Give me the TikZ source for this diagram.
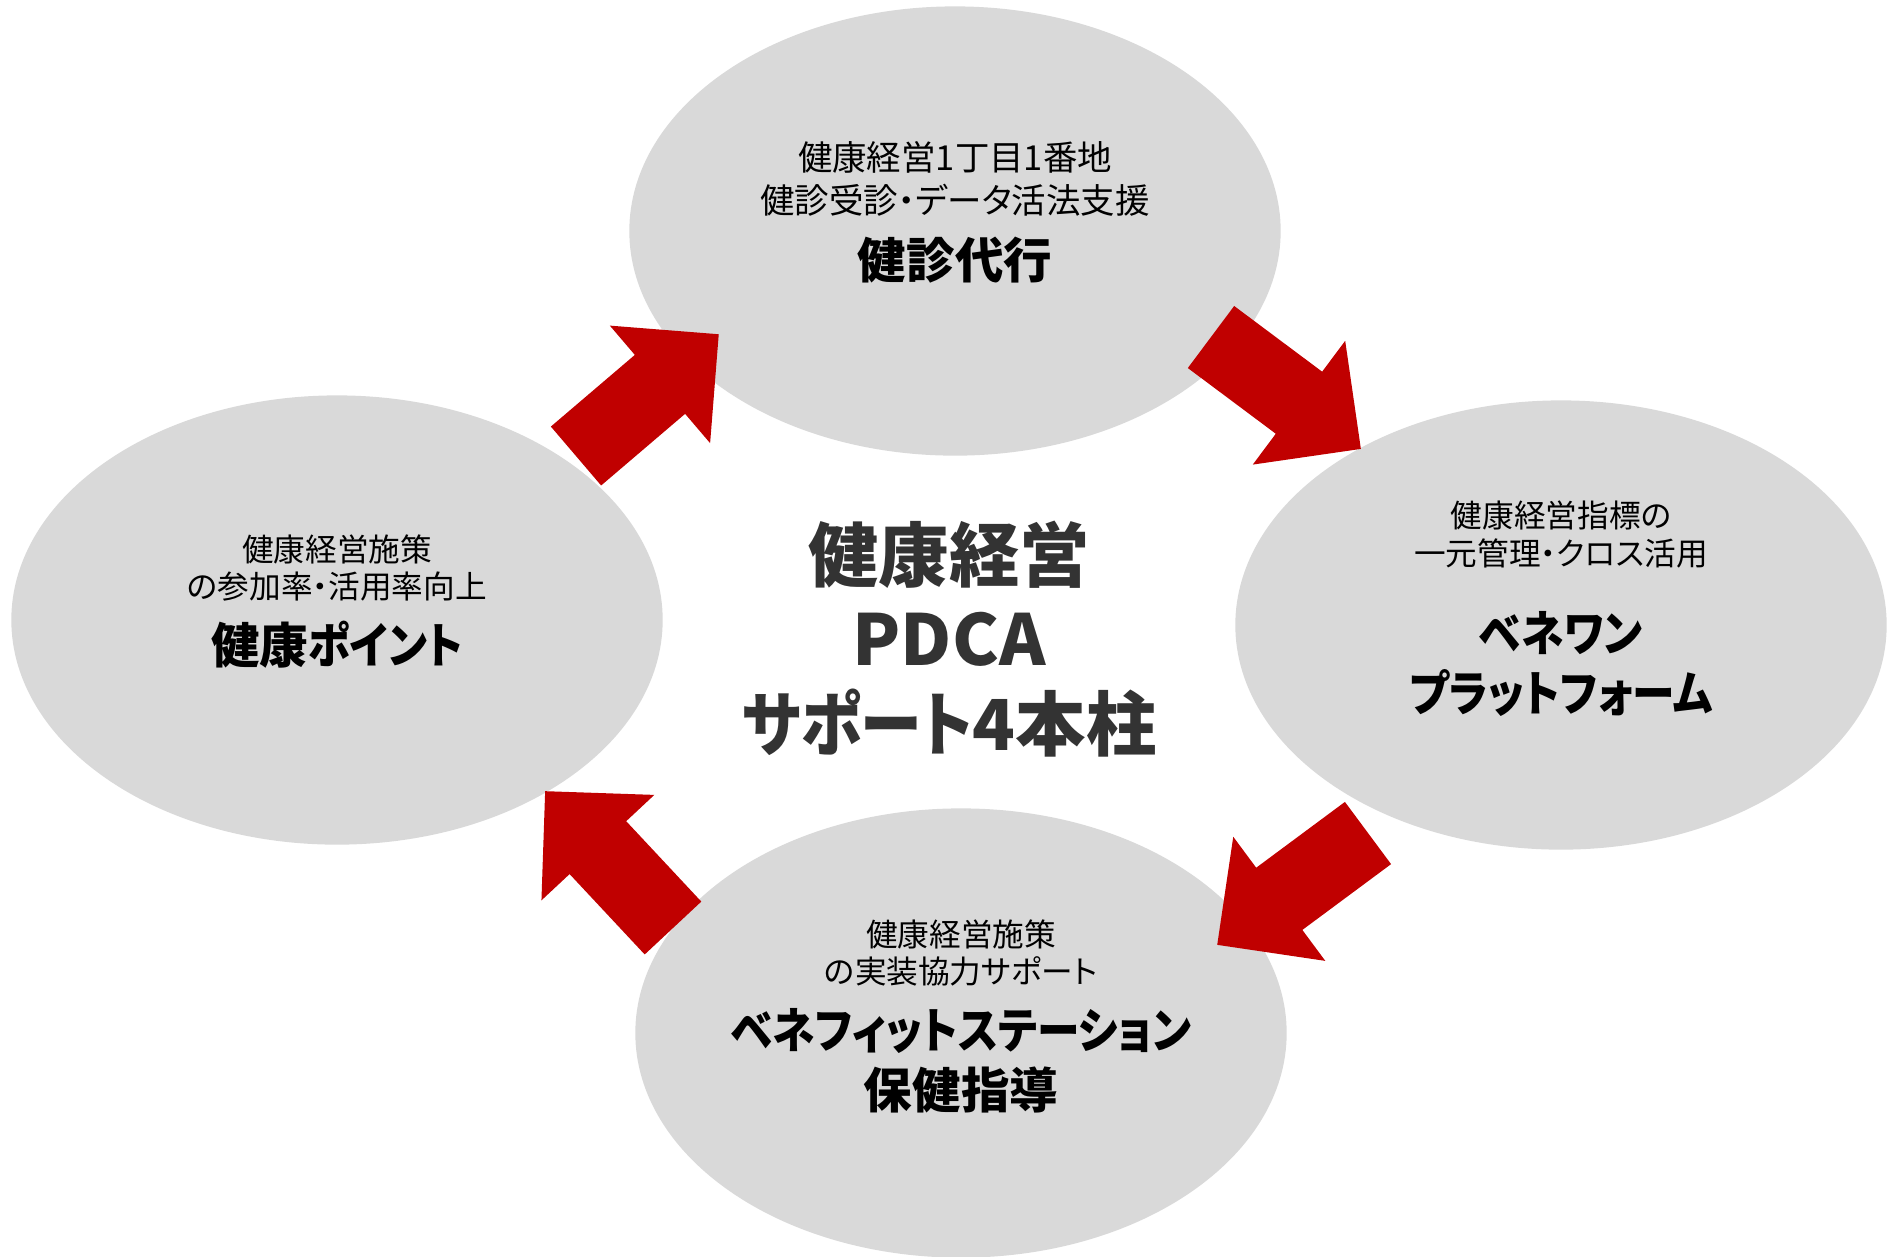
\documentclass[tikz,border=0pt]{standalone}
\usepackage{fontspec}
\setmainfont{Noto Sans CJK JP}[RawFeature=+palt]
\newfontfamily\kana{Noto Sans CJK JP}[RawFeature=+palt, FakeStretch=0.88]
\usetikzlibrary{calc,shapes.geometric,shapes.arrows}
\definecolor{pillargrey}{HTML}{D9D9D9}
\definecolor{pdcared}{HTML}{C00000}
\definecolor{textgrey}{HTML}{333333}
\tikzset{
	pillar/.style={ellipse, fill=pillargrey, minimum width=6.51cm, minimum height=4.49cm, inner sep=0},
	subtext/.style={font=\fontsize{9}{11}\selectfont, inner sep=0},
	titletext/.style={font=\fontsize{13.8}{16}\selectfont\bfseries, inner sep=0},
	pdca arrow/.style={single arrow, fill=pdcared, inner xsep=0, inner ysep=0.38cm, outer sep=0, single arrow head extend=0.385cm}
}
\def\pdcaarrow(#1)(#2){\path let \p1=($(#2)-(#1)$), \n1={atan2(\y1,\x1)}, \n2={veclen(\x1,\y1)} in node[pdca arrow, minimum height=\n2, rotate=\n1, anchor=tail] at (#1) {};}

\begin{document}
\begin{tikzpicture}[x=0.01cm, y=-0.01cm]
		%%%%% START %%%%%
		\useasboundingbox (0, 0) rectangle (1899, 1256);
		
		\node[pillar] (kenshin) at (955, 231) {};
		\node[pillar] (benewan) at (1561, 625) {};
		\node[pillar] (station) at (961, 1033) {};
		\node[pillar] (kenpoint) at (337, 620) {};
		
		% top
		\node[subtext, font=\fontsize{9.8}{11}\selectfont] (kenshin-a) at (955, 157) {健康経営1丁目1番地};
		\node[subtext, font=\fontsize{9.8}{11}\selectfont] (kenshin-b) at (955, 200) {健診受診・データ活法支援};
		\node[titletext] (kenshin-t) at (955, 260) {健診代行};
		
		% right
		\node[subtext] (benewan-a) at (1561, 515) {健康経営指標の};
		\node[subtext] (benewan-b) at (1561, 553) {一元管理・クロス活用};
		\node[titletext] (benewan-t) at (1561, 633) {\kana ベネワン};
		\node[titletext] (benewan-u) at (1561, 693) {\kana プラットフォーム};
		
		% bottom
		\node[subtext] (station-a) at (961, 934) {健康経営施策};
		\node[subtext] (station-b) at (961, 971) {の実装協力サポート};
		\node[titletext] (station-t) at (961, 1031) {\kana ベネフィットステーション};
		\node[titletext] (station-u) at (961, 1090) {保健指導};
		
		% left
		\node[subtext] (kenpoint-a) at (337, 549) {健康経営施策};
		\node[subtext] (kenpoint-b) at (337, 587) {の参加率・活用率向上};
		\node[titletext] (kenpoint-t) at (337, 645) {健康{\kana ポイント}};
		
		\node[font=\fontsize{20}{24}\selectfont\bfseries, text=textgrey, align=center, inner sep=0] (pdca) at (949, 639) {健康経営\\PDCA\\{\kana サポート}4本柱};
		
		% arrows
		\coordinate (p-tail) at (576, 456);
		\coordinate (p-tip) at (719, 334);
		\coordinate (d-tail) at (1211, 337);
		\coordinate (d-tip) at (1361, 449);
		\coordinate (c-tail) at (1368, 833);
		\coordinate (c-tip) at (1217, 945);
		\coordinate (a-tail) at (673, 928);
		\coordinate (a-tip) at (545, 791);
		
		\pdcaarrow(p-tail)(p-tip)
		\pdcaarrow(d-tail)(d-tip)
		\pdcaarrow(c-tail)(c-tip)
		\pdcaarrow(a-tail)(a-tip)
		
		%%%%% END %%%%%
\end{tikzpicture}
\end{document}
